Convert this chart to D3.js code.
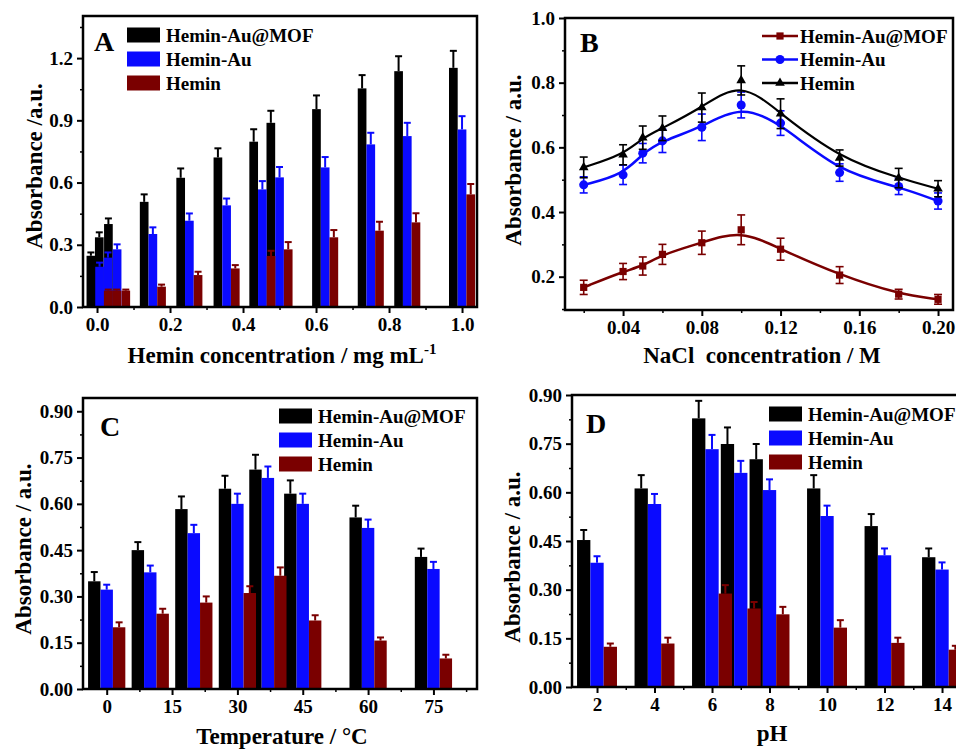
<!DOCTYPE html>
<html>
<head>
<meta charset="utf-8">
<script src="https://cdn.jsdelivr.net/npm/d3@7"></script>
<style>
  body { margin: 0; background: #fff; }
  svg { display: block; font-family: "Liberation Serif", "Times New Roman", serif; font-weight: bold; }
  .tick text { font-family: "Liberation Serif", "Times New Roman", serif; font-weight: bold; }
</style>
</head>
<body>
<svg id="fig" width="956" height="750"></svg>
<script>
const seriesNames = ["Hemin-Au@MOF", "Hemin-Au", "Hemin"];
const barColors = ["#000000", "#0a0aff", "#7a0000"];

// A: hemin concentration (mg/mL)
const concA = [0.007, 0.03, 0.055, 0.153, 0.253, 0.355, 0.453, 0.50, 0.625, 0.75, 0.85, 1.0];
const aMof = [0.247, 0.336, 0.40, 0.507, 0.623, 0.721, 0.797, 0.888, 0.954, 1.054, 1.137, 1.153];
const aMofErr = [0.016, 0.024, 0.027, 0.036, 0.045, 0.044, 0.06, 0.058, 0.066, 0.064, 0.072, 0.082];
const aAu = [0.194, 0.238, 0.278, 0.352, 0.416, 0.49, 0.567, 0.625, 0.673, 0.784, 0.824, 0.856];
const aAuErr = [0.02, 0.025, 0.024, 0.032, 0.035, 0.033, 0.04, 0.05, 0.05, 0.056, 0.064, 0.064];
const aHemin = [0.079, 0.079, 0.079, 0.098, 0.154, 0.186, 0.246, 0.278, 0.336, 0.368, 0.408, 0.543];
const aHeminErr = [0.005, 0.005, 0.005, 0.01, 0.016, 0.016, 0.025, 0.035, 0.035, 0.043, 0.044, 0.05];

// B: NaCl concentration (M)
const nacl = [0.02, 0.04, 0.05, 0.06, 0.08, 0.10, 0.12, 0.15, 0.18, 0.20];
const bMof = [0.167, 0.216, 0.233, 0.269, 0.305, 0.345, 0.285, 0.205, 0.146, 0.13];
const bMofErr = [0.022, 0.025, 0.028, 0.031, 0.036, 0.046, 0.034, 0.026, 0.015, 0.015];
const bAu = [0.484, 0.515, 0.582, 0.62, 0.662, 0.731, 0.675, 0.522, 0.479, 0.434];
const bAuErr = [0.025, 0.03, 0.03, 0.036, 0.041, 0.04, 0.038, 0.027, 0.025, 0.025];
const bHemin = [0.538, 0.577, 0.63, 0.659, 0.723, 0.807, 0.704, 0.567, 0.505, 0.472];
const bHeminErr = [0.032, 0.031, 0.036, 0.038, 0.045, 0.045, 0.046, 0.025, 0.03, 0.025];

// C: temperature (°C)
const temps = [0, 10, 20, 30, 37, 45, 60, 75];
const cMof = [0.349, 0.45, 0.583, 0.649, 0.711, 0.633, 0.556, 0.428];
const cMofErr = [0.03, 0.026, 0.041, 0.042, 0.048, 0.043, 0.038, 0.027];
const cAu = [0.322, 0.378, 0.505, 0.60, 0.684, 0.60, 0.522, 0.389];
const cAuErr = [0.016, 0.022, 0.027, 0.033, 0.037, 0.033, 0.027, 0.023];
const cHemin = [0.2, 0.244, 0.28, 0.311, 0.367, 0.222, 0.157, 0.099];
const cHeminErr = [0.016, 0.016, 0.02, 0.022, 0.027, 0.017, 0.01, 0.012];

// D: pH
const phs = [2, 4, 6, 7, 8, 10, 12, 14];
const dMof = [0.453, 0.612, 0.828, 0.749, 0.702, 0.612, 0.496, 0.40];
const dMofErr = [0.031, 0.041, 0.054, 0.051, 0.047, 0.041, 0.037, 0.027];
const dAu = [0.383, 0.564, 0.733, 0.66, 0.607, 0.527, 0.406, 0.362];
const dAuErr = [0.02, 0.031, 0.044, 0.037, 0.033, 0.032, 0.021, 0.022];
const dHemin = [0.124, 0.134, 0.288, 0.242, 0.224, 0.183, 0.136, 0.115];
const dHeminErr = [0.01, 0.018, 0.026, 0.02, 0.023, 0.023, 0.016, 0.012];

const svg = d3.select("#fig");

function drawAxes(g, x, y, c) {
  // minor ticks
  g.append("g").attr("transform", "translate(0," + c.bottom + ")")
    .call(d3.axisBottom(x).tickValues(c.xMinor).tickSize(3).tickFormat(""))
    .call(a => a.select(".domain").remove())
    .call(a => a.selectAll("line").attr("stroke-width", 1.5));
  g.append("g").attr("transform", "translate(" + c.left + ",0)")
    .call(d3.axisLeft(y).tickValues(c.yMinor).tickSize(3).tickFormat(""))
    .call(a => a.select(".domain").remove())
    .call(a => a.selectAll("line").attr("stroke-width", 1.5));
  // major ticks
  g.append("g").attr("transform", "translate(0," + c.bottom + ")")
    .call(d3.axisBottom(x).tickValues(c.xTicks).tickSize(6).tickPadding(5).tickFormat(c.xFmt))
    .call(a => a.select(".domain").remove())
    .call(a => a.selectAll("line").attr("stroke-width", 2))
    .call(a => a.selectAll("text").attr("font-size", 19).attr("fill", "#000"));
  g.append("g").attr("transform", "translate(" + c.left + ",0)")
    .call(d3.axisLeft(y).tickValues(c.yTicks).tickSize(6).tickPadding(4).tickFormat(c.yFmt))
    .call(a => a.select(".domain").remove())
    .call(a => a.selectAll("line").attr("stroke-width", 2))
    .call(a => a.selectAll("text").attr("font-size", 19).attr("fill", "#000"));

  g.append("rect")
    .attr("x", c.left).attr("y", c.top)
    .attr("width", c.right - c.left).attr("height", c.bottom - c.top)
    .attr("fill", "none").attr("stroke", "#000").attr("stroke-width", 2.5);

  g.append("text").attr("x", c.letterX).attr("y", c.letterY)
    .attr("font-size", 28).text(c.letter);

  g.append("text")
    .attr("transform", "translate(" + c.yTitleX + "," + c.yTitleY + ") rotate(-90)")
    .attr("text-anchor", "middle").attr("font-size", 23)
    .text(c.yTitle);

  const xt = g.append("text").attr("x", c.xTitleX).attr("y", c.xTitleY)
    .attr("text-anchor", "middle").attr("font-size", 23)
    .style("white-space", "pre");
  xt.append("tspan").text(c.xTitle);
  if (c.xSup) {
    xt.append("tspan").attr("dy", -9).attr("font-size", 15).text(c.xSup);
  }
}

function barPanel(c) {
  const g = svg.append("g");
  const x = d3.scaleLinear().domain(c.xDomain).range([c.left, c.right]);
  const y = d3.scaleLinear().domain(c.yDomain).range([c.bottom, c.top]);
  const bwPx = x(c.bw) - x(0);

  c.series.forEach((s, si) => {
    const off = si - 1;
    const data = c.xs.map((xv, i) => ({ x: xv, v: s.values[i], e: s.errs[i] }));
    const col = barColors[si];
    g.append("g").selectAll("rect").data(data).join("rect")
      .attr("x", d => x(d.x + (off - 0.5) * c.bw))
      .attr("width", bwPx)
      .attr("y", d => y(d.v))
      .attr("height", d => y(0) - y(d.v))
      .attr("fill", col);
    const eb = g.append("g").attr("stroke", col).attr("stroke-width", 2);
    eb.selectAll(".v").data(data).join("line").attr("class", "v")
      .attr("x1", d => x(d.x + off * c.bw)).attr("x2", d => x(d.x + off * c.bw))
      .attr("y1", d => y(d.v)).attr("y2", d => y(d.v + d.e));
    eb.selectAll(".h").data(data).join("line").attr("class", "h")
      .attr("x1", d => x(d.x + off * c.bw) - 3.5).attr("x2", d => x(d.x + off * c.bw) + 3.5)
      .attr("y1", d => y(d.v + d.e)).attr("y2", d => y(d.v + d.e));
  });

  drawAxes(g, x, y, c);

  // legend
  const lg = g.append("g");
  seriesNames.forEach((n, i) => {
    lg.append("rect").attr("x", c.legX).attr("y", c.legY + i * 24 - 7.5)
      .attr("width", 33).attr("height", 15).attr("fill", barColors[i]);
    lg.append("text").attr("x", c.legX + 39).attr("y", c.legY + i * 24)
      .attr("dy", "0.35em").attr("font-size", 19).text(n);
  });
}

// ---- Panel A
barPanel({
  left: 83, right: 477, top: 16, bottom: 307,
  xDomain: [-0.0384, 1.041], yDomain: [0, 1.403],
  xs: concA, bw: 0.0238,
  series: [
    { values: aMof, errs: aMofErr },
    { values: aAu, errs: aAuErr },
    { values: aHemin, errs: aHeminErr }
  ],
  xTicks: [0, 0.2, 0.4, 0.6, 0.8, 1.0], xMinor: [0.1, 0.3, 0.5, 0.7, 0.9],
  yTicks: [0, 0.3, 0.6, 0.9, 1.2], yMinor: [0.15, 0.45, 0.75, 1.05, 1.35],
  xFmt: d3.format(".1f"), yFmt: d3.format(".1f"),
  letter: "A", letterX: 94, letterY: 51,
  yTitle: "Absorbance /a.u.", yTitleX: 42, yTitleY: 166,
  xTitle: "Hemin concentration / mg mL", xSup: "-1", xTitleX: 282, xTitleY: 363,
  legX: 127, legY: 35
});

// ---- Panel C
barPanel({
  left: 83, right: 477, top: 398, bottom: 689,
  xDomain: [-5.44, 85.0], yDomain: [0, 0.943],
  xs: temps, bw: 2.85,
  series: [
    { values: cMof, errs: cMofErr },
    { values: cAu, errs: cAuErr },
    { values: cHemin, errs: cHeminErr }
  ],
  xTicks: [0, 15, 30, 45, 60, 75], xMinor: [7.5, 22.5, 37.5, 52.5, 67.5, 82.5],
  yTicks: [0, 0.15, 0.30, 0.45, 0.60, 0.75, 0.90], yMinor: [0.075, 0.225, 0.375, 0.525, 0.675, 0.825],
  xFmt: d3.format("d"), yFmt: d3.format(".2f"),
  letter: "C", letterX: 100, letterY: 436,
  yTitle: "Absorbance / a.u.", yTitleX: 31, yTitleY: 549,
  xTitle: "Temperature / °C", xTitleX: 282, xTitleY: 744,
  legX: 279, legY: 416
});

// ---- Panel D
barPanel({
  left: 572, right: 960, top: 395, bottom: 687,
  xDomain: [1.13, 14.625], yDomain: [0, 0.9],
  xs: phs, bw: 0.463,
  series: [
    { values: dMof, errs: dMofErr },
    { values: dAu, errs: dAuErr },
    { values: dHemin, errs: dHeminErr }
  ],
  xTicks: [2, 4, 6, 8, 10, 12, 14], xMinor: [3, 5, 7, 9, 11, 13],
  yTicks: [0, 0.15, 0.30, 0.45, 0.60, 0.75, 0.90], yMinor: [0.075, 0.225, 0.375, 0.525, 0.675, 0.825],
  xFmt: d3.format("d"), yFmt: d3.format(".2f"),
  letter: "D", letterX: 586, letterY: 433,
  yTitle: "Absorbance / a.u.", yTitleX: 520, yTitleY: 557,
  xTitle: "pH", xTitleX: 772, xTitleY: 741,
  legX: 769, legY: 414
});

// ---- Panel B (line chart)
(function () {
  const c = {
    left: 565, right: 953, top: 18, bottom: 310,
    xTicks: [0.04, 0.08, 0.12, 0.16, 0.20], xMinor: [0.02, 0.06, 0.10, 0.14, 0.18],
    yTicks: [0.2, 0.4, 0.6, 0.8, 1.0], yMinor: [0.1, 0.3, 0.5, 0.7, 0.9],
    xFmt: d3.format(".2f"), yFmt: d3.format(".1f"),
    letter: "B", letterX: 580, letterY: 52,
    yTitle: "Absorbance / a.u.", yTitleX: 521, yTitleY: 160,
    xTitle: "NaCl  concentration / M", xTitleX: 762, xTitleY: 363
  };
  const g = svg.append("g");
  const x = d3.scaleLinear().domain([0.0105, 0.2076]).range([c.left, c.right]);
  const y = d3.scaleLinear().domain([0.097, 1.0]).range([c.bottom, c.top]);
  const lineColors = ["#7a0000", "#0a0aff", "#000000"];
  const series = [
    { values: bMof, errs: bMofErr, shape: d3.symbolSquare, size: 52, w: 2.5 },
    { values: bAu, errs: bAuErr, shape: d3.symbolCircle, size: 64, w: 2.5 },
    { values: bHemin, errs: bHeminErr, shape: d3.symbolTriangle, size: 40, w: 2.2 }
  ];
  const line = d3.line().x(d => x(d.x)).y(d => y(d.v)).curve(d3.curveBasis);

  series.forEach((s, si) => {
    const col = lineColors[si];
    const data = nacl.map((xv, i) => ({ x: xv, v: s.values[i], e: s.errs[i] }));
    g.append("path").datum(data).attr("d", line)
      .attr("fill", "none").attr("stroke", col).attr("stroke-width", s.w);
    const eb = g.append("g").attr("stroke", col).attr("stroke-width", 1.6);
    eb.selectAll(".v").data(data).join("line").attr("class", "v")
      .attr("x1", d => x(d.x)).attr("x2", d => x(d.x))
      .attr("y1", d => y(d.v - d.e)).attr("y2", d => y(d.v + d.e));
    [1, -1].forEach(sg => {
      eb.selectAll(".h" + sg).data(data).join("line")
        .attr("x1", d => x(d.x) - 4).attr("x2", d => x(d.x) + 4)
        .attr("y1", d => y(d.v + sg * d.e)).attr("y2", d => y(d.v + sg * d.e));
    });
    g.append("g").selectAll("path").data(data).join("path")
      .attr("transform", d => "translate(" + x(d.x) + "," + y(d.v) + ")")
      .attr("d", d3.symbol().type(s.shape).size(s.size))
      .attr("fill", col);
  });

  drawAxes(g, x, y, c);

  const lg = g.append("g");
  seriesNames.forEach((n, i) => {
    const ly = 36 + i * 23.5;
    lg.append("line").attr("x1", 762).attr("x2", 798).attr("y1", ly).attr("y2", ly)
      .attr("stroke", lineColors[i]).attr("stroke-width", 2.5);
    lg.append("path").attr("transform", "translate(780," + ly + ")")
      .attr("d", d3.symbol().type(series[i].shape).size(series[i].size))
      .attr("fill", lineColors[i]);
    lg.append("text").attr("x", 800).attr("y", ly).attr("dy", "0.35em")
      .attr("font-size", 19).text(n);
  });
})();
</script>
</body>
</html>
